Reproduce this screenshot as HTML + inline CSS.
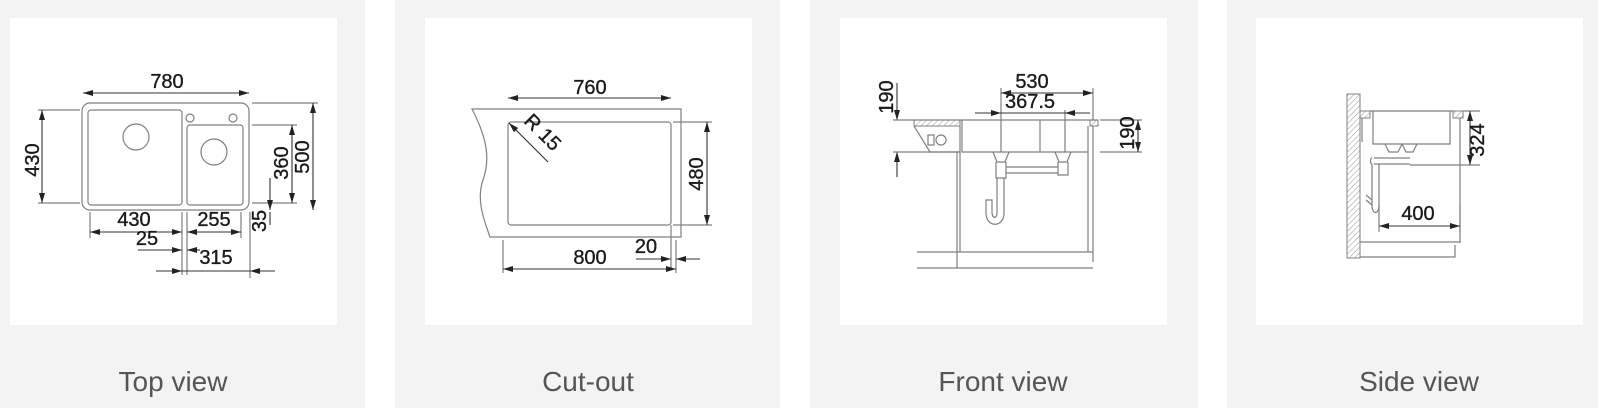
<!DOCTYPE html>
<html><head><meta charset="utf-8"><style>
html,body{margin:0;padding:0;background:#fff;width:1600px;height:410px;overflow:hidden}
svg{display:block}
.t{font-family:"Liberation Sans",sans-serif;font-size:20px;fill:#1a1a1a;stroke:#1a1a1a;stroke-width:0.35}
.c{font-family:"Liberation Sans",sans-serif;font-size:28px;fill:#555}
.g{stroke:#808080;stroke-width:1.2;fill:none}
.d{stroke:#333;stroke-width:1.1;fill:none}
</style></head><body>
<svg width="1600" height="410" viewBox="0 0 1600 410" xmlns="http://www.w3.org/2000/svg">
<defs>
<marker id="a" viewBox="0 0 10 6" refX="10" refY="3" markerWidth="10" markerHeight="6" orient="auto-start-reverse" markerUnits="userSpaceOnUse"><path d="M0,0L10,3L0,6z" fill="#222"/></marker>
<pattern id="h" width="4" height="4" patternUnits="userSpaceOnUse" patternTransform="rotate(45)"><line x1="0" y1="0" x2="0" y2="4" stroke="#999" stroke-width="1"/></pattern>
</defs>
<rect x="-20" y="0" width="385" height="408" fill="#f3f3f3"/>
<rect x="395" y="0" width="385" height="408" fill="#f3f3f3"/>
<rect x="810" y="0" width="388" height="408" fill="#f3f3f3"/>
<rect x="1227" y="0" width="371" height="408" fill="#f3f3f3"/>
<rect x="10" y="18" width="327" height="307" fill="#fff"/>
<rect x="425" y="18" width="327" height="307" fill="#fff"/>
<rect x="840" y="18" width="327" height="307" fill="#fff"/>
<rect x="1256" y="18" width="327" height="307" fill="#fff"/>
<text class="c" x="173" y="391" text-anchor="middle">Top view</text>
<text class="c" x="588" y="391" text-anchor="middle">Cut-out</text>
<text class="c" x="1003" y="391" text-anchor="middle">Front view</text>
<text class="c" x="1419" y="391" text-anchor="middle">Side view</text>

<!-- Panel 1 -->
<rect class="g" x="82" y="103" width="167" height="107" rx="8"/>
<rect class="g" x="88" y="110" width="94" height="95" rx="3"/>
<rect class="g" x="187" y="125" width="56" height="80" rx="3"/>
<circle class="g" cx="190" cy="118" r="4"/><circle class="g" cx="233" cy="118" r="4"/>
<circle class="g" cx="136" cy="137" r="13"/><circle class="g" cx="214" cy="152" r="13"/>
<line class="d" x1="83" y1="93" x2="249" y2="93" marker-start="url(#a)" marker-end="url(#a)"/>
<text class="t" x="167" y="88" text-anchor="middle">780</text>
<path class="g" d="M38,110H80M38,203H80M252,103H318M252,125H297M252,203H297"/>
<line class="d" x1="42" y1="110" x2="42" y2="203" marker-start="url(#a)" marker-end="url(#a)"/>
<text class="t" transform="translate(39,160) rotate(-90)" text-anchor="middle">430</text>
<line class="d" x1="313" y1="103" x2="313" y2="210" marker-start="url(#a)" marker-end="url(#a)"/>
<text class="t" transform="translate(309,157) rotate(-90)" text-anchor="middle">500</text>
<line class="d" x1="292" y1="125" x2="292" y2="203" marker-start="url(#a)" marker-end="url(#a)"/>
<text class="t" transform="translate(288,163) rotate(-90)" text-anchor="middle">360</text>
<line class="d" x1="270" y1="178" x2="270" y2="210" marker-end="url(#a)"/>
<line class="d" x1="270" y1="225" x2="270" y2="212"/>
<text class="t" transform="translate(266,221) rotate(-90)" text-anchor="middle">35</text>
<path class="g" d="M90,212V238M182,212V275M187,212V275M241,212V238M250,212V278"/>
<line class="d" x1="90" y1="232" x2="182" y2="232" marker-start="url(#a)" marker-end="url(#a)"/>
<text class="t" x="134" y="226" text-anchor="middle">430</text>
<line class="d" x1="187" y1="232" x2="241" y2="232" marker-start="url(#a)" marker-end="url(#a)"/>
<text class="t" x="214" y="226" text-anchor="middle">255</text>
<line class="d" x1="138" y1="250" x2="182" y2="250" marker-end="url(#a)"/>
<line class="d" x1="200" y1="250" x2="187" y2="250" marker-end="url(#a)"/>
<text class="t" x="147" y="245" text-anchor="middle">25</text>
<line class="d" x1="156" y1="271" x2="182" y2="271" marker-end="url(#a)"/>
<line class="d" x1="275" y1="271" x2="250" y2="271" marker-end="url(#a)"/>
<line class="d" x1="182" y1="271" x2="250" y2="271"/>
<text class="t" x="216" y="264" text-anchor="middle">315</text>

<!-- Panel 2 -->
<path class="g" d="M472,109H681V237H490C484,220 476,200 483,180C490,160 488,140 472,109Z"/>
<rect class="g" x="508" y="122" width="163" height="103" rx="3"/>
<line class="d" x1="508" y1="98" x2="671" y2="98" marker-start="url(#a)" marker-end="url(#a)"/>
<text class="t" x="590" y="94" text-anchor="middle">760</text>
<line class="d" x1="548" y1="162" x2="509" y2="123" marker-end="url(#a)"/>
<text class="t" transform="translate(538,137) rotate(45)" text-anchor="middle">R 15</text>
<path class="g" d="M673,122H712M673,225H712M503,240V273M676,240V273M671,225V268"/>
<line class="d" x1="707" y1="122" x2="707" y2="225" marker-start="url(#a)" marker-end="url(#a)"/>
<text class="t" transform="translate(703,174) rotate(-90)" text-anchor="middle">480</text>
<line class="d" x1="503" y1="269" x2="676" y2="269" marker-start="url(#a)" marker-end="url(#a)"/>
<text class="t" x="590" y="264" text-anchor="middle">800</text>
<line class="d" x1="636" y1="259" x2="671" y2="259" marker-end="url(#a)"/>
<line class="d" x1="700" y1="259" x2="676" y2="259" marker-end="url(#a)"/>
<text class="t" x="646" y="253" text-anchor="middle">20</text>

<!-- Panel 3 -->
<line class="d" x1="897" y1="83" x2="897" y2="120" marker-end="url(#a)"/>
<line class="d" x1="897" y1="177" x2="897" y2="152" marker-end="url(#a)"/>
<text class="t" transform="translate(893,97) rotate(-90)" text-anchor="middle">190</text>
<path class="g" d="M893,120H1098M893,152H960"/>
<rect x="914" y="120" width="46" height="6" fill="url(#h)" stroke="#808080" stroke-width="1"/>
<rect x="1090" y="120" width="8" height="6" fill="url(#h)" stroke="#808080" stroke-width="1"/>
<path class="g" d="M914,126L930,152H960V126"/>
<rect class="g" x="928" y="135" width="6" height="10"/><circle class="g" cx="941" cy="140" r="5"/>
<path class="g" d="M962,120V152H1088V126M1040,120V152M957,152V268M960,152V252M1093,126V262M1088,126V252M917,252H1093M917,268H1093"/>
<path class="g" d="M993,152L997,162H1005L1009,152M1055,152L1059,162H1067L1071,152M996,162V178H1006V162M1058,162V175H1068V162M1006,167H1058M1006,173H1058M997,178V213M1004,178V213C1004,228 986,228 986,213V200H992V212C992,219 997,219 997,213"/>
<path class="g" d="M1001,88V152M1093,88V120M1065,110V152"/>
<line class="d" x1="1001" y1="93" x2="1093" y2="93" marker-start="url(#a)" marker-end="url(#a)"/>
<text class="t" x="1032" y="88" text-anchor="middle">530</text>
<line class="d" x1="975" y1="113" x2="1001" y2="113" marker-end="url(#a)"/>
<line class="d" x1="1001" y1="113" x2="1090" y2="113"/>
<line class="d" x1="1090" y1="113" x2="1065" y2="113" marker-end="url(#a)"/>
<text class="t" x="1030" y="108" text-anchor="middle">367.5</text>
<path class="g" d="M1100,120H1142M1100,152H1142"/>
<line class="d" x1="1138" y1="120" x2="1138" y2="152" marker-start="url(#a)" marker-end="url(#a)"/>
<text class="t" transform="translate(1134,133) rotate(-90)" text-anchor="middle">190</text>

<!-- Panel 4 -->
<rect x="1347" y="94" width="13" height="164" fill="url(#h)" stroke="#808080" stroke-width="1"/>
<rect x="1360" y="111" width="10" height="7" fill="url(#h)" stroke="#808080" stroke-width="1"/>
<rect x="1453" y="111" width="10" height="7" fill="url(#h)" stroke="#808080" stroke-width="1"/>
<path class="g" d="M1370,111H1453M1373,111V144H1450V111M1362,118V142M1460,118V243M1360,242H1460M1360,257H1455V245"/>
<path class="g" d="M1385,144L1389,152H1398L1402,144M1402,144L1406,152H1413L1417,144M1374,158H1410M1374,164H1410M1372,158C1370,158 1370,164 1372,164M1372,164V205M1379,164V205M1372,205C1372,215 1379,215 1379,205M1366,195L1372,200M1366,200L1372,205"/>
<path class="g" d="M1410,165H1480M1463,111H1480M1379,205V232M1460,205V232"/>
<line class="d" x1="1470" y1="111" x2="1470" y2="165" marker-start="url(#a)" marker-end="url(#a)"/>
<text class="t" transform="translate(1484,140) rotate(-90)" text-anchor="middle">324</text>
<line class="d" x1="1379" y1="226" x2="1460" y2="226" marker-start="url(#a)" marker-end="url(#a)"/>
<text class="t" x="1418" y="220" text-anchor="middle">400</text>
</svg>
</body></html>
